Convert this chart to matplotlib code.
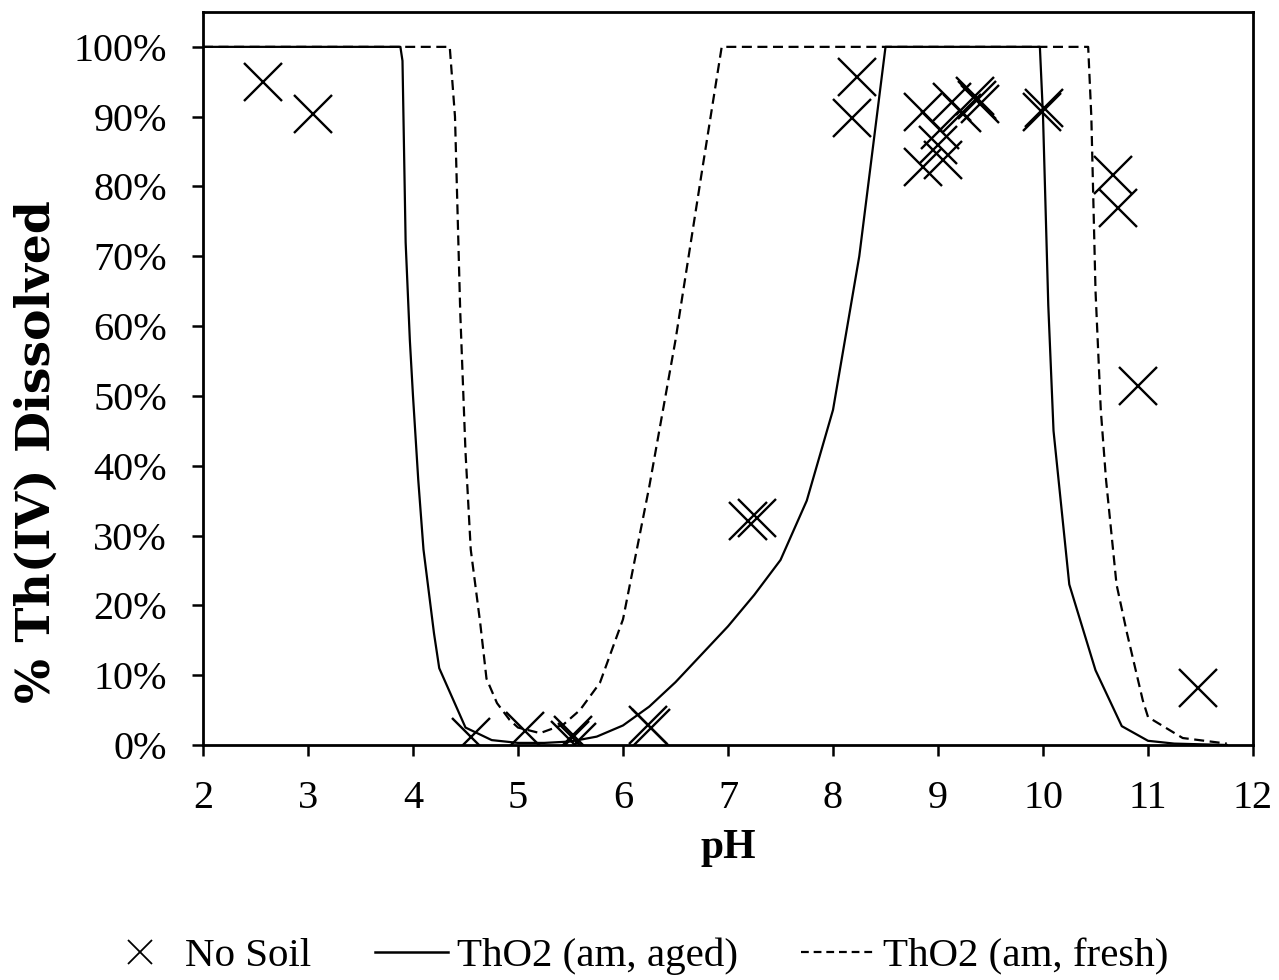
import matplotlib
matplotlib.use("Agg")
import matplotlib.pyplot as plt
from matplotlib.lines import Line2D
from matplotlib.ticker import PercentFormatter

# ---- data ----
soil_ph = [2.57, 3.05, 4.55, 5.07, 5.50, 5.56, 5.52, 6.24, 6.27,
           7.19, 7.28, 8.23, 8.18,
           8.86, 9.02, 9.13, 9.23, 9.37, 9.35, 9.40, 8.86, 9.05, 9.00,
           9.99, 10.01, 10.67, 10.71, 10.90, 11.48]
soil_pct = [95.0, 90.4, 1.1, 2.0, 0.7, 0.4, 1.5, 2.9, 2.5,
            32.1, 32.5, 95.7, 89.8,
            90.7, 88.1, 92.1, 90.5, 92.4, 93.0, 91.8, 82.8, 83.8, 86.0,
            90.7, 91.3, 81.7, 76.9, 51.4, 8.2]

aged_ph = [2.0, 3.88, 3.90, 3.93, 3.97, 4.00, 4.05, 4.10, 4.20, 4.25, 4.50, 4.75,
           5.00, 5.25, 5.50, 5.75, 6.00, 6.25, 6.50, 6.75, 7.00, 7.25, 7.50,
           7.75, 8.00, 8.25, 8.50, 9.97, 10.00, 10.05, 10.10, 10.25, 10.50,
           10.75, 11.00, 11.25, 11.75]
aged_pct = [100, 100, 98, 72, 58, 50, 38, 28, 16, 11, 2.5, 0.7,
            0.3, 0.3, 0.5, 1.2, 2.8, 5.5, 9.0, 13.0, 17.0, 21.5, 26.5,
            35.0, 48.0, 70.0, 100, 100, 90, 63, 45, 23, 10.7,
            2.7, 0.6, 0.2, 0.0]

fresh_ph = [2.0, 4.35, 4.40, 4.45, 4.50, 4.55, 4.64, 4.70, 4.80, 4.92, 5.00, 5.21,
            5.43, 5.59, 5.78, 6.00, 6.25, 6.50, 6.75, 6.94,
            10.43, 10.46, 10.50, 10.55, 10.60, 10.70, 10.80, 10.95,
            11.00, 11.33, 11.75]
fresh_pct = [100, 100, 90, 62, 42, 28, 17.5, 9.5, 6.0, 3.6, 2.5, 1.7,
             2.9, 5.0, 8.9, 18.0, 37.0, 58.0, 82.0, 100,
             100, 90, 65, 48, 38, 23, 16, 6.4,
             4.0, 1.0, 0.2]

xticks = list(range(2, 13))
yticks = list(range(0, 101, 10))
legend_labels = ["No Soil", "ThO2 (am, aged)", "ThO2 (am, fresh)"]

plt.rcParams["font.family"] = ["Liberation Serif", "DejaVu Serif"]

fig = plt.figure(figsize=(12.79, 9.80), dpi=100)
ax = fig.add_axes([0.1587, 0.2398, 0.8210, 0.7480])

DASH = (4.5, 2.5)
ax.plot(aged_ph, aged_pct, color="black", lw=1.6, zorder=2)
ax.plot(fresh_ph, fresh_pct, color="black", lw=1.6, dashes=DASH, zorder=2)
ax.plot(soil_ph, soil_pct, linestyle="none", marker="x", markersize=27,
        markeredgewidth=1.7, color="black", zorder=3)

ax.set_xlim(2, 12)
ax.set_ylim(0, 105)
ax.set_xticks(xticks)
ax.set_yticks(yticks)
ax.yaxis.set_major_formatter(PercentFormatter(decimals=0))

for s in ax.spines.values():
    s.set_linewidth(2.0)
ax.tick_params(axis="both", direction="out", length=8, width=1.8, labelsize=29)
ax.tick_params(axis="y", pad=18)
ax.tick_params(axis="x", pad=17)

ax.set_xlabel("pH", fontsize=30, fontweight="bold", va="center")
ax.xaxis.set_label_coords(0.5, -0.140)
ax.set_ylabel("% Th(IV) Dissolved", fontsize=34, fontweight="bold", va="center",
              family=["DejaVu Serif"])
ax.yaxis.set_label_coords(-0.158, 0.40)

handles = [
    Line2D([], [], linestyle="none", marker="x", markersize=17, markeredgewidth=1.3, color="black"),
    Line2D([], [], color="black", lw=1.8),
    Line2D([], [], color="black", lw=1.6, dashes=(3.5, 2.2)),
]
fig.legend(handles, legend_labels, loc="center", bbox_to_anchor=(0.497, 0.024), ncol=3,
           frameon=False, fontsize=29.5, handlelength=1.8, handletextpad=0.2,
           columnspacing=1.55, borderpad=0)

fig.savefig("out.png", dpi=100)
